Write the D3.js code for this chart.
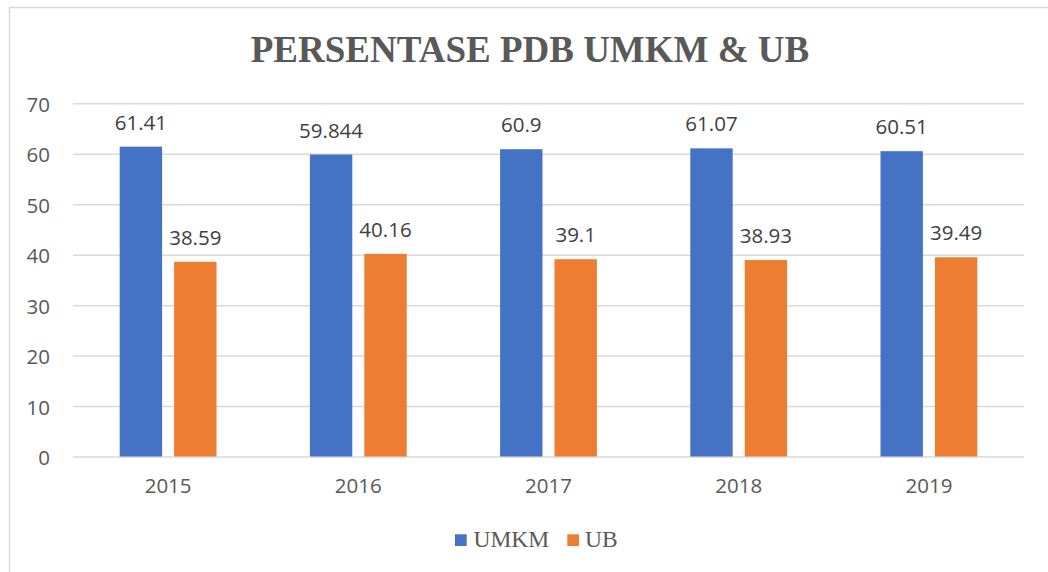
<!DOCTYPE html>
<html>
<head>
<meta charset="utf-8">
<script src="https://cdn.jsdelivr.net/npm/d3@7"></script>
<style>
  html, body { margin: 0; padding: 0; background: #ffffff; }
  svg { display: block; }
</style>
</head>
<body>
<script>
// ---- data ----
const categories = ["2015", "2016", "2017", "2018", "2019"];
const seriesNames = ["UMKM", "UB"];
const umkmValues = [61.41, 59.844, 60.9, 61.07, 60.51];
const ubValues = [38.59, 40.16, 39.1, 38.93, 39.49];
const yTicks = [0, 10, 20, 30, 40, 50, 60, 70];
const titleText = "PERSENTASE PDB UMKM & UB";

// ---- styling ----
const W = 1048, H = 572;
const colors = { UMKM: "#4472C4", UB: "#ED7D31" };
const plot = { left: 73, right: 1024, top: 103.3, bottom: 456.5 };
const sansFont = "'Open Sans', 'Liberation Sans', sans-serif";
const serifFont = "'Liberation Serif', 'Times New Roman', serif";

const svg = d3.select("body").append("svg")
  .attr("width", W).attr("height", H);

// chart border (box extends beyond right and bottom edges)
svg.append("rect")
  .attr("x", 9.5).attr("y", 7.5)
  .attr("width", W + 20).attr("height", H + 20)
  .attr("fill", "#ffffff")
  .attr("stroke", "#d9d9d9").attr("stroke-width", 1.5);

// title
svg.append("text")
  .attr("x", 530).attr("y", 62)
  .attr("text-anchor", "middle")
  .attr("font-family", serifFont)
  .attr("font-weight", "bold")
  .attr("font-size", 37)
  .attr("fill", "#595959")
  .text(titleText);

// scales
const x0 = d3.scaleBand().domain(categories).range([plot.left, plot.right]).paddingInner(0).paddingOuter(0);
const bw = x0.bandwidth();
const groupW = bw * 0.509;
const x1 = d3.scaleBand().domain(seriesNames)
  .range([(bw - groupW) / 2, (bw + groupW) / 2]).paddingInner(0.221).paddingOuter(0);
const y = d3.scaleLinear().domain([0, 70]).range([plot.bottom, plot.top]);

// gridlines
const yAxis = d3.axisLeft(y).tickValues(yTicks).tickSize(-(plot.right - plot.left)).tickPadding(23);
const gy = svg.append("g").attr("transform", `translate(${plot.left},0)`).call(yAxis);
gy.select(".domain").remove();
gy.selectAll(".tick line").attr("stroke", "#d9d9d9").attr("stroke-width", 1.5);
gy.selectAll(".tick text")
  .attr("font-family", sansFont).attr("font-size", 20.5)
  .attr("fill", "#595959").attr("dy", null)
  .attr("dominant-baseline", "central");

// x axis labels
const xAxis = d3.axisBottom(x0).tickSize(0).tickPadding(22);
const gx = svg.append("g").attr("transform", `translate(0,${plot.bottom})`).call(xAxis);
gx.select(".domain").remove();
gx.selectAll(".tick text")
  .attr("font-family", sansFont).attr("font-size", 20.5)
  .attr("fill", "#595959");

// bars
const rows = categories.map((c, i) => ({ cat: c, vals: [
  { key: "UMKM", value: umkmValues[i] },
  { key: "UB", value: ubValues[i] }
]}));

const groups = svg.append("g").selectAll("g.grp").data(rows).join("g")
  .attr("class", "grp")
  .attr("transform", d => `translate(${x0(d.cat)},0)`);

groups.selectAll("rect").data(d => d.vals).join("rect")
  .attr("x", d => x1(d.key))
  .attr("y", d => y(d.value))
  .attr("width", x1.bandwidth())
  .attr("height", d => y(0) - y(d.value))
  .attr("fill", d => colors[d.key]);

groups.selectAll("text.lbl").data(d => d.vals).join("text")
  .attr("class", "lbl")
  .attr("x", d => x1(d.key) + x1.bandwidth() / 2)
  .attr("y", d => y(d.value) - 17)
  .attr("text-anchor", "middle")
  .attr("font-family", sansFont).attr("font-size", 20.5)
  .attr("fill", "#404040")
  .text(d => String(d.value));

// legend
const legend = svg.append("g");
const legendItems = [
  { key: "UMKM", sx: 455, tx: 473.5 },
  { key: "UB", sx: 567.3, tx: 585 }
];
legendItems.forEach(it => {
  legend.append("rect")
    .attr("x", it.sx).attr("y", 534.3)
    .attr("width", 11.7).attr("height", 11.7)
    .attr("fill", colors[it.key]);
  legend.append("text")
    .attr("x", it.tx).attr("y", 546.7)
    .attr("font-family", serifFont).attr("font-size", 23.5)
    .attr("fill", "#595959")
    .text(it.key);
});
</script>
</body>
</html>
